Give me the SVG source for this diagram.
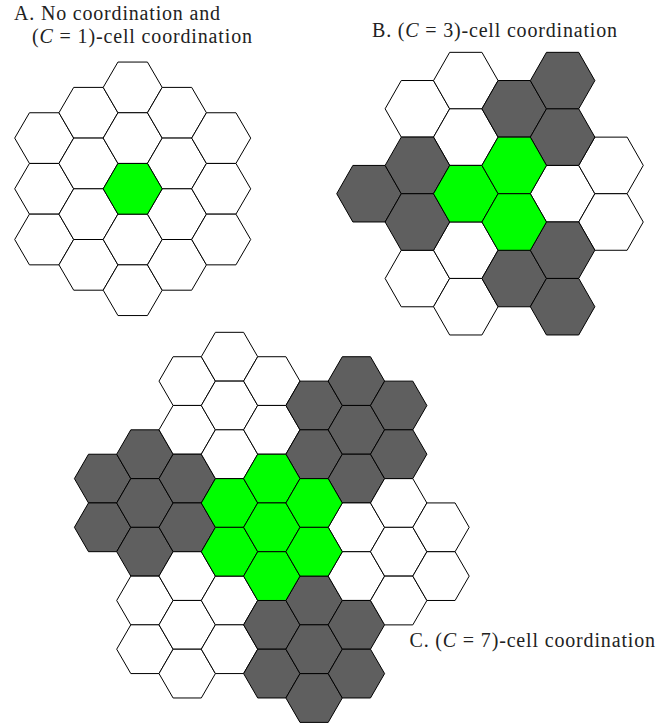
<svg xmlns="http://www.w3.org/2000/svg" xmlns:xlink="http://www.w3.org/1999/xlink" width="672" height="724" viewBox="0 0 672 724">
<style>
.w{fill:#ffffff}.d{fill:#5f5f5f}.g{fill:#00ff00}
text{font-family:"Liberation Serif","Times New Roman",serif;font-size:20px;fill:#222}
.m{font-style:italic}
</style>
<defs>
<polygon id="hA" points="-29.5,0 -14.75,-25.35 14.75,-25.35 29.5,0 14.75,25.35 -14.75,25.35" stroke="#000" stroke-width="1" stroke-linejoin="miter"/>
<polygon id="hB" points="-32.27,0 -16.13,-28.27 16.13,-28.27 32.27,0 16.13,28.27 -16.13,28.27" stroke="#000" stroke-width="1" stroke-linejoin="miter"/>
<polygon id="hC" points="-28.2,0 -14.1,-24.375 14.1,-24.375 28.2,0 14.1,24.375 -14.1,24.375" stroke="#000" stroke-width="1" stroke-linejoin="miter"/>
</defs>
<g id="labels">
<text x="14" y="20" textLength="206" lengthAdjust="spacing">A. No coordination and</text>
<text x="32" y="42.5" textLength="220" lengthAdjust="spacing">(<tspan class="m">C</tspan> = 1)-cell coordination</text>
<text x="372" y="36.7" textLength="245" lengthAdjust="spacing">B. (<tspan class="m">C</tspan> = 3)-cell coordination</text>
<text x="409.5" y="646.7" textLength="245.5" lengthAdjust="spacing">C. (<tspan class="m">C</tspan> = 7)-cell coordination</text>
</g>
<g id="connectors"/>
<g id="panelA">
<g id="A1"><use xlink:href="#hA" x="44.2" y="138.1" class="w"/></g>
<g id="A2"><use xlink:href="#hA" x="44.2" y="188.8" class="w"/></g>
<g id="A3"><use xlink:href="#hA" x="44.2" y="239.5" class="w"/></g>
<g id="A4"><use xlink:href="#hA" x="88.45" y="112.75" class="w"/></g>
<g id="A5"><use xlink:href="#hA" x="88.45" y="163.45" class="w"/></g>
<g id="A6"><use xlink:href="#hA" x="88.45" y="214.15" class="w"/></g>
<g id="A7"><use xlink:href="#hA" x="88.45" y="264.85" class="w"/></g>
<g id="A8"><use xlink:href="#hA" x="132.7" y="87.4" class="w"/></g>
<g id="A9"><use xlink:href="#hA" x="132.7" y="138.1" class="w"/></g>
<g id="A11"><use xlink:href="#hA" x="132.7" y="239.5" class="w"/></g>
<g id="A12"><use xlink:href="#hA" x="132.7" y="290.2" class="w"/></g>
<g id="A13"><use xlink:href="#hA" x="176.95" y="112.75" class="w"/></g>
<g id="A14"><use xlink:href="#hA" x="176.95" y="163.45" class="w"/></g>
<g id="A15"><use xlink:href="#hA" x="176.95" y="214.15" class="w"/></g>
<g id="A16"><use xlink:href="#hA" x="176.95" y="264.85" class="w"/></g>
<g id="A17"><use xlink:href="#hA" x="221.2" y="138.1" class="w"/></g>
<g id="A18"><use xlink:href="#hA" x="221.2" y="188.8" class="w"/></g>
<g id="A19"><use xlink:href="#hA" x="221.2" y="239.5" class="w"/></g>
<g id="A10"><use xlink:href="#hA" x="132.7" y="188.8" class="g"/></g>
</g>
<g id="panelB">
<g id="B2"><use xlink:href="#hB" x="417.4" y="108.8" class="w"/></g>
<g id="B5"><use xlink:href="#hB" x="417.4" y="278.5" class="w"/></g>
<g id="B6"><use xlink:href="#hB" x="465.8" y="80.6" class="w"/></g>
<g id="B7"><use xlink:href="#hB" x="465.8" y="137.1" class="w"/></g>
<g id="B9"><use xlink:href="#hB" x="465.8" y="250.2" class="w"/></g>
<g id="B10"><use xlink:href="#hB" x="465.8" y="306.7" class="w"/></g>
<g id="B17"><use xlink:href="#hB" x="562.6" y="193.7" class="w"/></g>
<g id="B20"><use xlink:href="#hB" x="611" y="165.4" class="w"/></g>
<g id="B21"><use xlink:href="#hB" x="611" y="222" class="w"/></g>
<g id="B1"><use xlink:href="#hB" x="369" y="193.7" class="d"/></g>
<g id="B3"><use xlink:href="#hB" x="417.4" y="165.4" class="d"/></g>
<g id="B4"><use xlink:href="#hB" x="417.4" y="222" class="d"/></g>
<g id="B11"><use xlink:href="#hB" x="514.2" y="108.8" class="d"/></g>
<g id="B14"><use xlink:href="#hB" x="514.2" y="278.5" class="d"/></g>
<g id="B15"><use xlink:href="#hB" x="562.6" y="80.6" class="d"/></g>
<g id="B16"><use xlink:href="#hB" x="562.6" y="137.1" class="d"/></g>
<g id="B18"><use xlink:href="#hB" x="562.6" y="250.2" class="d"/></g>
<g id="B19"><use xlink:href="#hB" x="562.6" y="306.7" class="d"/></g>
<g id="B8"><use xlink:href="#hB" x="465.8" y="193.7" class="g"/></g>
<g id="B12"><use xlink:href="#hB" x="514.2" y="165.4" class="g"/></g>
<g id="B13"><use xlink:href="#hB" x="514.2" y="222" class="g"/></g>
</g>
<g id="panelC">
<g id="C1"><use xlink:href="#hC" x="102.6" y="478.6" class="d"/></g>
<g id="C2"><use xlink:href="#hC" x="102.6" y="527.3" class="d"/></g>
<g id="C3"><use xlink:href="#hC" x="144.9" y="454.2" class="d"/></g>
<g id="C4"><use xlink:href="#hC" x="144.9" y="503.0" class="d"/></g>
<g id="C5"><use xlink:href="#hC" x="144.9" y="551.7" class="d"/></g>
<g id="C6"><use xlink:href="#hC" x="144.9" y="600.5" class="w"/></g>
<g id="C7"><use xlink:href="#hC" x="144.9" y="649.2" class="w"/></g>
<g id="C8"><use xlink:href="#hC" x="187.2" y="381.1" class="w"/></g>
<g id="C9"><use xlink:href="#hC" x="187.2" y="429.8" class="w"/></g>
<g id="C10"><use xlink:href="#hC" x="187.2" y="478.6" class="d"/></g>
<g id="C11"><use xlink:href="#hC" x="187.2" y="527.3" class="d"/></g>
<g id="C12"><use xlink:href="#hC" x="187.2" y="576.1" class="w"/></g>
<g id="C13"><use xlink:href="#hC" x="187.2" y="624.8" class="w"/></g>
<g id="C14"><use xlink:href="#hC" x="187.2" y="673.6" class="w"/></g>
<g id="C15"><use xlink:href="#hC" x="229.5" y="356.7" class="w"/></g>
<g id="C16"><use xlink:href="#hC" x="229.5" y="405.5" class="w"/></g>
<g id="C17"><use xlink:href="#hC" x="229.5" y="454.2" class="w"/></g>
<g id="C20"><use xlink:href="#hC" x="229.5" y="600.5" class="w"/></g>
<g id="C21"><use xlink:href="#hC" x="229.5" y="649.2" class="w"/></g>
<g id="C22"><use xlink:href="#hC" x="271.8" y="381.1" class="w"/></g>
<g id="C23"><use xlink:href="#hC" x="271.8" y="429.8" class="w"/></g>
<g id="C27"><use xlink:href="#hC" x="271.8" y="624.8" class="d"/></g>
<g id="C28"><use xlink:href="#hC" x="271.8" y="673.6" class="d"/></g>
<g id="C29"><use xlink:href="#hC" x="314.1" y="405.5" class="d"/></g>
<g id="C30"><use xlink:href="#hC" x="314.1" y="454.2" class="d"/></g>
<g id="C33"><use xlink:href="#hC" x="314.1" y="600.5" class="d"/></g>
<g id="C34"><use xlink:href="#hC" x="314.1" y="649.2" class="d"/></g>
<g id="C35"><use xlink:href="#hC" x="314.1" y="698.0" class="d"/></g>
<g id="C36"><use xlink:href="#hC" x="356.4" y="381.1" class="d"/></g>
<g id="C37"><use xlink:href="#hC" x="356.4" y="429.8" class="d"/></g>
<g id="C38"><use xlink:href="#hC" x="356.4" y="478.6" class="d"/></g>
<g id="C39"><use xlink:href="#hC" x="356.4" y="527.3" class="w"/></g>
<g id="C40"><use xlink:href="#hC" x="356.4" y="576.1" class="w"/></g>
<g id="C41"><use xlink:href="#hC" x="356.4" y="624.8" class="d"/></g>
<g id="C42"><use xlink:href="#hC" x="356.4" y="673.6" class="d"/></g>
<g id="C43"><use xlink:href="#hC" x="398.7" y="405.5" class="d"/></g>
<g id="C44"><use xlink:href="#hC" x="398.7" y="454.2" class="d"/></g>
<g id="C45"><use xlink:href="#hC" x="398.7" y="503.0" class="w"/></g>
<g id="C46"><use xlink:href="#hC" x="398.7" y="551.7" class="w"/></g>
<g id="C47"><use xlink:href="#hC" x="398.7" y="600.5" class="w"/></g>
<g id="C48"><use xlink:href="#hC" x="441.0" y="527.3" class="w"/></g>
<g id="C49"><use xlink:href="#hC" x="441.0" y="576.1" class="w"/></g>
<g id="C18"><use xlink:href="#hC" x="229.5" y="503.0" class="g"/></g>
<g id="C19"><use xlink:href="#hC" x="229.5" y="551.7" class="g"/></g>
<g id="C24"><use xlink:href="#hC" x="271.8" y="478.6" class="g"/></g>
<g id="C25"><use xlink:href="#hC" x="271.8" y="527.3" class="g"/></g>
<g id="C26"><use xlink:href="#hC" x="271.8" y="576.1" class="g"/></g>
<g id="C31"><use xlink:href="#hC" x="314.1" y="503.0" class="g"/></g>
<g id="C32"><use xlink:href="#hC" x="314.1" y="551.7" class="g"/></g>
</g>
</svg>
